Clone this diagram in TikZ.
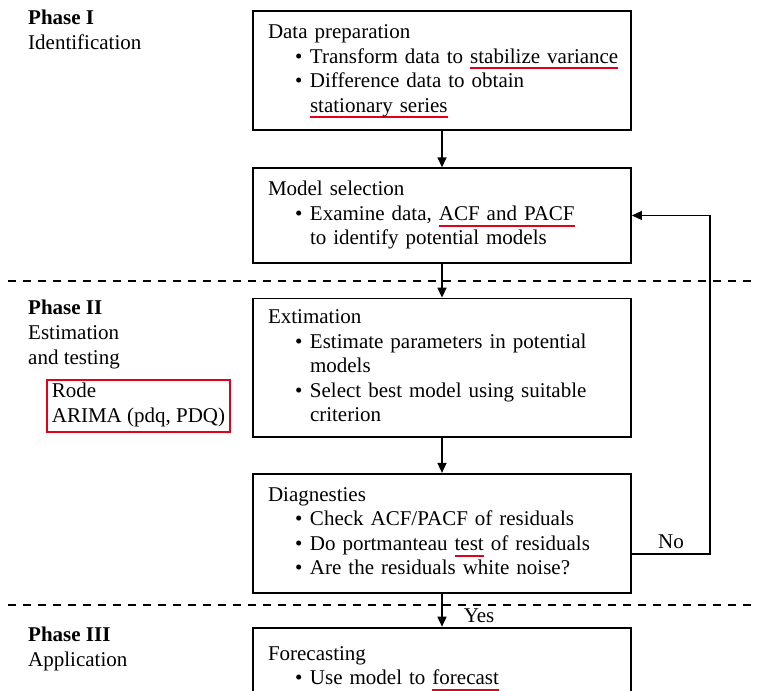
\documentclass[tikz,border=0pt]{standalone}
\usepackage{fontspec}
\setmainfont{Liberation Serif}
\usetikzlibrary{positioning,arrows.meta}
\definecolor{markred}{RGB}{228,0,27}
\newlength{\ulwidth}
\newcommand{\redul}[1]{\settowidth{\ulwidth}{#1}\rlap{\smash{\textcolor{markred}{\rule[-6.2pt]{\ulwidth}{1.8pt}}}}#1}
\newcommand{\bitem}{\hspace*{27pt}\makebox[15pt][l]{\textbullet}}
\newcommand{\bcont}{\hspace*{42pt}}

\begin{document}
\begin{tikzpicture}[x=1pt, y=-1pt,
  txt/.style = {font=\fontsize{21}{24.5}\selectfont, execute at begin node=\strut, execute at end node=\strut},
  stage/.style = {draw, line width=1.8pt, font=\fontsize{21}{24.5}\selectfont, text width=360pt, inner xsep=9pt, inner ysep=10.5pt,
    execute at begin node={\raggedright\leftskip=6pt\hyphenpenalty=10000\strut}, execute at end node=\strut},
  phase/.style = {font=\fontsize{21}{25}\selectfont, execute at begin node=\strut, execute at end node=\strut, align=left, anchor=north west, inner sep=0pt},
  flow/.style = {line width=1.5pt, -{Triangle[length=10pt, width=9pt]}},
  phasesep/.style = {line width=1.4pt, dash pattern=on 8pt off 7pt}]
\useasboundingbox (0,0) rectangle (758,691);

% flow chart boxes
\node[stage, anchor=north] (prep) at (442,10) {Data preparation\\ \bitem Transform data to \redul{stabilize variance}\\ \bitem Difference data to obtain\\ \bcont\redul{stationary series}};
\node[stage, below=36.5pt of prep] (select) {Model selection\\ \bitem Examine data, \redul{ACF and PACF}\\ \bcont to identify potential models};
\node[stage, inner ysep=8pt, below=34pt of select] (estim) {Extimation\\ \bitem Estimate parameters in potential\\ \bcont models\\ \bitem Select best model using suitable\\ \bcont criterion};
\node[stage, below=35pt of estim] (diag) {Diagnesties\\ \bitem Check ACF/PACF of residuals\\ \bitem Do portmanteau \redul{test} of residuals\\ \bitem Are the residuals white noise?};
\node[stage, minimum height=80pt, below=33pt of diag] (fcast) {Forecasting\\ \bitem Use model to \redul{forecast}};

\draw[flow] (prep) -- (select);
\draw[flow] (select) -- (estim);
\draw[flow] (estim) -- (diag);
\draw[flow] (diag) -- node[txt, pos=0.72, anchor=west, inner sep=0pt, xshift=21pt] (yes) {Yes} (fcast);

% back to model selection
\coordinate (noturn) at (710,554);
\draw[line width=1.2pt, -{Triangle[length=10pt, width=9pt]}] (noturn -| diag.east) -- node[txt, midway, anchor=south, inner sep=0pt, yshift=-2pt] (no) {No} (noturn) |- (select.east);

% phases
\draw[phasesep] (8,281) -- (755,281);
\draw[phasesep] (8,605) -- (755,605);
\coordinate (lft) at (28,0);
\node[phase] (ph1) at (prep.north -| lft) {\textbf{Phase I}\\Identification};
\node[phase, yshift=-2.5pt] (ph2) at (estim.north -| lft) {\textbf{Phase II}\\Estimation\\and testing};
\node[phase] (ph3) at (fcast.north -| lft) {\textbf{Phase III}\\Application};
\node[txt, draw=markred, line width=1.8pt, align=left, inner xsep=5pt, inner ysep=3pt, below right=6.5pt and 18pt of ph2.south west] (rode) {Rode\\ARIMA (pdq, PDQ)};
\end{tikzpicture}
\end{document}
